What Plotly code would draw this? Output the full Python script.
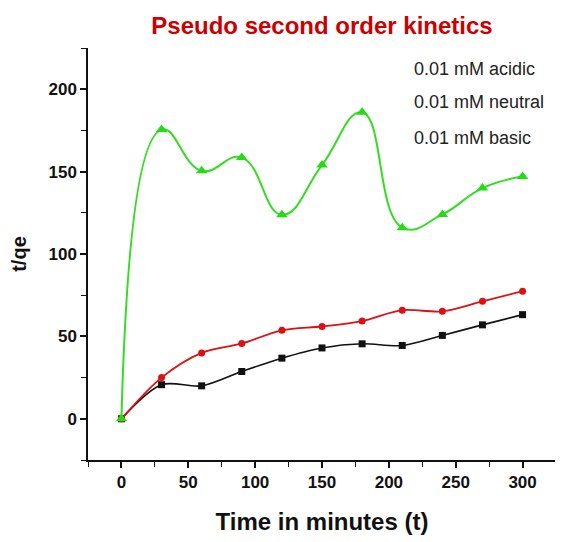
import plotly.graph_objects as go

time_min = [0, 30, 60, 90, 120, 150, 180, 210, 240, 270, 300]
acidic = [0, 20.7, 20.0, 28.7, 36.8, 43.0, 45.5, 44.5, 50.6, 57.0, 63.2]
neutral = [0, 25.0, 40.0, 45.7, 53.7, 56.0, 59.3, 65.9, 65.2, 71.3, 77.4]
basic = [0, 175.5, 150.5, 158.5, 123.8, 154.0, 186.0, 116.0, 124.0, 140.0, 147.0]

series_names = ["0.01 mM acidic", "0.01 mM neutral", "0.01 mM basic"]
x_ticks = [0, 50, 100, 150, 200, 250, 300]
y_ticks = [0, 50, 100, 150, 200]

FONT = "Liberation Sans, Arial, sans-serif"

fig = go.Figure()
fig.add_trace(go.Scatter(
    x=time_min, y=acidic, name=series_names[0], mode="lines+markers",
    line=dict(color="#111111", width=1.6, shape="spline", smoothing=0.9),
    marker=dict(symbol="square", size=7, color="#111111"),
))
fig.add_trace(go.Scatter(
    x=time_min, y=neutral, name=series_names[1], mode="lines+markers",
    line=dict(color="#dd1111", width=1.8, shape="spline", smoothing=0.9),
    marker=dict(symbol="circle", size=7, color="#dd1111"),
))
fig.add_trace(go.Scatter(
    x=time_min, y=basic, name=series_names[2], mode="lines+markers",
    line=dict(color="#33dd22", width=2, shape="spline", smoothing=1.3),
    marker=dict(symbol="triangle-up", size=10, color="#22dd11"),
))

# legend entries (text only, as in the reference)
legend_y = [212.5, 192.5, 170.5]
for name, ly in zip(series_names, legend_y):
    fig.add_annotation(x=217, y=ly, xref="x", yref="y", text=name,
                       showarrow=False, xanchor="left", yanchor="middle",
                       font=dict(family=FONT, size=18, color="#222222"))

fig.update_layout(
    width=563, height=542,
    margin=dict(l=80, r=15, t=40, b=90),
    plot_bgcolor="white", paper_bgcolor="white",
    showlegend=False,
    title=dict(text="<b>Pseudo second order kinetics</b>", x=314 / 563, xanchor="center",
               y=1 - 18 / 542, yanchor="middle",
               font=dict(family=FONT, size=24, color="#cc0000")),
)
fig.update_xaxes(
    range=[-25, 325], tickvals=x_ticks, ticktext=[f"<b>{v}</b>" for v in x_ticks],
    showline=True, linecolor="#111111", linewidth=1.5, mirror=False, automargin=False,
    ticks="outside", ticklen=6, tickwidth=1.5, tickcolor="#111111",
    minor=dict(dtick=25, tick0=0, ticks="outside", ticklen=5, tickwidth=1.3, tickcolor="#111111"),
    showgrid=False, zeroline=False,
    tickfont=dict(family=FONT, size=17, color="#111111"),
    title=dict(text="<b>Time in minutes (t)</b>", standoff=22,
               font=dict(family=FONT, size=24, color="#111111")),
)
fig.update_yaxes(
    range=[-25, 225], tickvals=y_ticks, ticktext=[f"<b>{v}</b>" for v in y_ticks],
    showline=True, linecolor="#111111", linewidth=1.5, mirror=False, automargin=False,
    ticks="outside", ticklen=6, tickwidth=1.5, tickcolor="#111111",
    minor=dict(dtick=25, tick0=0, ticks="outside", ticklen=5, tickwidth=1.3, tickcolor="#111111"),
    showgrid=False, zeroline=False,
    tickfont=dict(family=FONT, size=17, color="#111111"),
    title=dict(text="<b>t/qe</b>", standoff=16,
               font=dict(family=FONT, size=20, color="#111111")),
)

fig.write_html("out.html")
